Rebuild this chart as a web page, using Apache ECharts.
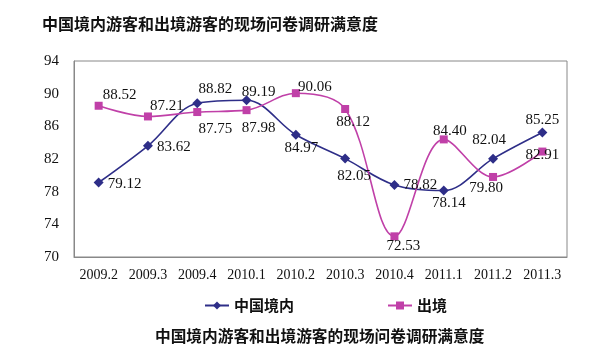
<!DOCTYPE html>
<html><head><meta charset="utf-8">
<script src="https://cdn.jsdelivr.net/npm/echarts@6/dist/echarts.min.js"></script>
<style>html,body{margin:0;padding:0;background:#fff}#c{width:600px;height:353px}</style>
</head><body><div id="c"></div>
<script>
var categories = ['2009.2','2009.3','2009.4','2010.1','2010.2','2010.3','2010.4','2011.1','2011.2','2011.3'];
var domestic = [79.12, 83.62, 88.82, 89.19, 84.97, 82.05, 78.82, 78.14, 82.04, 85.25];
var outbound = [88.52, 87.21, 87.75, 87.98, 90.06, 88.12, 72.53, 84.40, 79.80, 82.91];
var domesticPos = ['right','right','top','top','bottom','bottom','right','bottom','top','top'];
var outboundPos = ['top','top','bottom','bottom','top','bottom','bottom','top','bottom','inside'];
var domesticOff = [[0,2],[0,1],[18,2.5],[12,8.5],[5.5,-3.5],[9,0.5],[0,0],[5,-3.5],[-4,-2.5],[0,4.5]];
var outboundOff = [[21,4.5],[19,5.5],[18,1.5],[12,2.5],[19,9.5],[8,-2.5],[9,-5.5],[6,7.5],[-7,-4.5],[0,3]];
var serif = '"Liberation Serif", "DejaVu Serif", serif';
var cjk = '"Noto Sans CJK SC", sans-serif';
function mk(vals, pos, off) {
  return vals.map(function (v, i) {
    return {value: v, label: {position: pos[i], offset: off[i]}};
  });
}
var fmt = function (p) { return Number(p.value).toFixed(2); };
var chart = echarts.init(document.getElementById('c'));
chart.setOption({
  animation: false,
  title: [
    {text: '中国境内游客和出境游客的现场问卷调研满意度', left: 37, top: 11,
     textStyle: {fontFamily: cjk, fontSize: 16, fontWeight: 'bold', color: '#111'}},
    {text: '中国境内游客和出境游客的现场问卷调研满意度', left: 150, top: 323,
     textStyle: {fontFamily: cjk, fontSize: 15.7, fontWeight: 'bold', color: '#111'}}
  ],
  legend: {
    top: 293, left: 199, itemGap: 93, itemWidth: 24, itemHeight: 10,
    textStyle: {fontFamily: cjk, fontSize: 15, fontWeight: 'bold', color: '#111'},
    data: ['中国境内', '出境']
  },
  grid: {left: 74, right: 33, top: 61, bottom: 96, show: true, borderColor: '#888', borderWidth: 1},
  xAxis: {
    type: 'category', data: categories, boundaryGap: true,
    axisLine: {lineStyle: {color: '#888'}},
    axisTick: {inside: true, length: 6, lineStyle: {color: '#888'}},
    axisLabel: {interval: 0, fontFamily: serif, fontSize: 14, color: '#111', margin: 11}
  },
  yAxis: {
    type: 'value', min: 70, max: 94, interval: 4,
    splitLine: {show: false},
    axisLine: {show: true, lineStyle: {color: '#888'}},
    axisTick: {show: false},
    axisLabel: {fontFamily: serif, fontSize: 15, color: '#111', margin: 15}
  },
  series: [
    {
      name: '中国境内', type: 'line', smooth: 0.35,
      symbol: 'diamond', symbolSize: 10,
      lineStyle: {color: '#2E2E88', width: 1.6},
      itemStyle: {color: '#2E2E88'},
      label: {show: true, fontFamily: serif, fontSize: 15, color: '#111', distance: 4, formatter: fmt},
      data: mk(domestic, domesticPos, domesticOff)
    },
    {
      name: '出境', type: 'line', smooth: 0.35,
      symbol: 'rect', symbolSize: 8,
      lineStyle: {color: '#C040A8', width: 1.6},
      itemStyle: {color: '#C040A8'},
      label: {show: true, fontFamily: serif, fontSize: 15, color: '#111', distance: 4, formatter: fmt},
      data: mk(outbound, outboundPos, outboundOff)
    }
  ]
});
</script></body></html>
